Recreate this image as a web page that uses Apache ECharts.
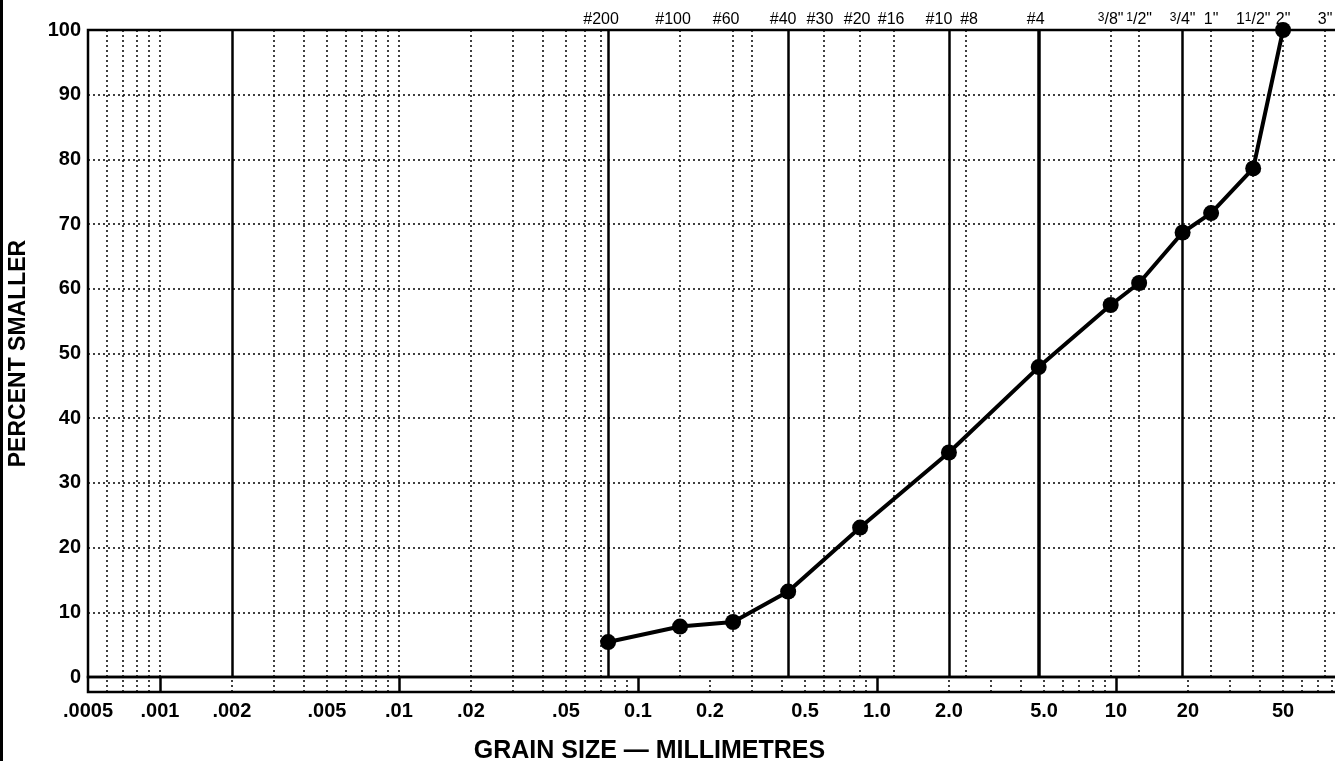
<!DOCTYPE html>
<html><head><meta charset="utf-8">
<script src="https://cdn.jsdelivr.net/npm/echarts@6/dist/echarts.min.js"></script>
<style>html,body{margin:0;padding:0;background:#fff}#c{width:1335px;height:761px}</style>
</head><body><div id="c"></div>
<script>
// Measured gradation curve
const grainSize = [0.075, 0.15, 0.25, 0.425, 0.85, 2.0, 4.75, 9.5, 12.5, 19, 25, 37.5, 50];
const percentSmaller = [5.4, 7.8, 8.5, 13.2, 23.1, 34.7, 47.9, 57.5, 60.9, 68.7, 71.7, 78.6, 100];

// Sieve lines and their top labels
const sieveSizes  = [0.075, 0.15, 0.25, 0.3, 0.425, 0.6, 0.85, 1.18, 2.0, 2.36, 4.75, 9.5, 12.5, 19, 25, 37.5, 50, 75];
const sieveLabels = ['#200', '#100', '#60', '', '#40', '#30', '#20', '#16', '#10', '#8', '#4',
  '{sup|3}/8"', '{sup|1}/2"', '{sup|3}/4"', '1"', '1{sup|1}/2"', '2"', '3"'];
const heavySieves = [0.075, 0.425, 2.0, 19];
const extraHeavySieves = [4.75];

// Fine-range log grid in the plot
const fineGrid = [0.0006, 0.0007, 0.0008, 0.0009, 0.001, 0.002, 0.003, 0.004, 0.005, 0.006, 0.007, 0.008, 0.009,
  0.01, 0.02, 0.03, 0.04, 0.05, 0.06, 0.07];
const heavyFine = [0.002];

// Scale strip ticks under the plot
const bandTicks = [0.0006, 0.0007, 0.0008, 0.0009, 0.001, 0.002, 0.003, 0.004, 0.005, 0.006, 0.007, 0.008, 0.009,
  0.01, 0.02, 0.03, 0.04, 0.05, 0.06, 0.07, 0.08, 0.09,
  0.1, 0.2, 0.3, 0.4, 0.5, 0.6, 0.7, 0.8, 0.9,
  1, 2, 3, 4, 5, 6, 7, 8, 9,
  10, 20, 30, 40, 50, 60, 70, 80, 90];
const bandMajor = [0.001, 0.01, 0.1, 1, 10];

// Bottom axis labels
const xLabelValues = [0.0005, 0.001, 0.002, 0.005, 0.01, 0.02, 0.05, 0.1, 0.2, 0.5, 1, 2, 5, 10, 20, 50];
const xLabelTexts  = ['.0005', '.001', '.002', '.005', '.01', '.02', '.05', '0.1', '0.2', '0.5', '1.0', '2.0', '5.0', '10', '20', '50'];

const yTicks = [0, 10, 20, 30, 40, 50, 60, 70, 80, 90, 100];

// Styling: horizontal nudge of the sieve captions (px, negative = left)
const LABEL_SHIFT = {'#200': -7, '#100': -7, '#60': -7, '#40': -5, '#30': -4, '#20': -3, '#16': -3, '#10': -10, '#8': 3, '#4': -3};

const FONT = "'Liberation Sans', Arial, Helvetica, sans-serif";
const DOT = [2, 3];

const chart = echarts.init(document.getElementById('c'), null, {renderer: 'canvas'});

const fineLines = fineGrid.map(v => ({
  xAxis: v,
  lineStyle: heavyFine.includes(v)
    ? {type: 'solid', width: 2.5, color: '#000'}
    : {type: DOT, width: 1.5, color: '#000'}
}));

const sieveLines = sieveSizes.map((v, i) => {
  const lbl = sieveLabels[i];
  let ls;
  if (extraHeavySieves.includes(v)) ls = {type: 'solid', width: 3.5, color: '#000'};
  else if (heavySieves.includes(v)) ls = {type: 'solid', width: 2.5, color: '#000'};
  else ls = {type: DOT, width: 1.5, color: '#000'};
  const s = LABEL_SHIFT[lbl] || 0;
  const pad = s < 0 ? [0, -2 * s, 0, 0] : [0, 0, 0, 2 * s];
  return {
    xAxis: v,
    name: lbl,
    lineStyle: ls,
    label: {
      show: lbl !== '',
      position: 'end',
      distance: 2,
      padding: pad
    }
  };
});

const bandLines = bandTicks.map(v => ({
  xAxis: v,
  lineStyle: bandMajor.includes(v)
    ? {type: 'solid', width: 2.5, color: '#000'}
    : {type: DOT, width: 1.5, color: '#000'}
}));

const labelLines = xLabelValues.map((v, i) => ({
  xAxis: v,
  name: xLabelTexts[i]
}));

const mlBase = {silent: true, symbol: ['none', 'none'], animation: false, precision: 10};

const option = {
  backgroundColor: '#fff',
  animation: false,
  graphic: [{
    type: 'rect', left: 0, top: 0,
    shape: {x: 0, y: 0, width: 3, height: 761},
    style: {fill: '#000'}
  }],
  grid: [
    {left: 88, top: 30, width: 1267, height: 647, outerBoundsMode: 'none', containLabel: false,
      show: true, borderColor: '#000', borderWidth: 2.5, backgroundColor: 'transparent'},
    {left: 88, top: 677, width: 1267, height: 15, outerBoundsMode: 'none', containLabel: false,
      show: true, borderColor: '#000', borderWidth: 2.5, backgroundColor: 'transparent'}
  ],
  xAxis: [
    {type: 'log', logBase: 10, gridIndex: 0, min: 0.0005, max: 100,
      axisLine: {show: false}, axisTick: {show: false}, axisLabel: {show: false}, splitLine: {show: false}},
    {type: 'log', logBase: 10, gridIndex: 1, min: 0.0005, max: 100,
      axisLine: {show: false}, axisTick: {show: false}, axisLabel: {show: false}, splitLine: {show: false},
      name: 'GRAIN SIZE — MILLIMETRES', nameLocation: 'middle', nameGap: 47,
      nameTextStyle: {fontFamily: FONT, fontWeight: 'bold', fontSize: 25, color: '#000', padding: [0, 144, 0, 0]}}
  ],
  yAxis: [
    {type: 'value', gridIndex: 0, min: 0, max: 100, interval: 10,
      axisLine: {show: false}, axisTick: {show: false},
      axisLabel: {fontFamily: FONT, fontWeight: 'bold', fontSize: 20, color: '#000', margin: 7,
        formatter: v => yTicks.includes(v) ? String(v) : ''},
      splitLine: {show: true, lineStyle: {type: DOT, width: 1.5, color: '#000'}},
      name: 'PERCENT SMALLER', nameLocation: 'middle', nameGap: 58,
      nameTextStyle: {fontFamily: FONT, fontWeight: 'bold', fontSize: 23, color: '#000'}},
    {type: 'value', gridIndex: 1, min: 0, max: 1, show: false}
  ],
  series: [
    {
      type: 'line', xAxisIndex: 0, yAxisIndex: 0, data: [], silent: true,
      markLine: Object.assign({}, mlBase, {label: {show: false}, data: fineLines})
    },
    {
      type: 'line', xAxisIndex: 0, yAxisIndex: 0, data: [], silent: true,
      markLine: Object.assign({}, mlBase, {
        label: {
          show: true, position: 'end', color: '#000', fontFamily: FONT, fontSize: 16,
          formatter: p => p.name,
          rich: {
            sup: {fontFamily: FONT, fontSize: 12, color: '#000', verticalAlign: 'top', lineHeight: 12}
          }
        },
        data: sieveLines
      })
    },
    {
      type: 'line', xAxisIndex: 1, yAxisIndex: 1, data: [], silent: true,
      markLine: Object.assign({}, mlBase, {label: {show: false}, data: bandLines})
    },
    {
      type: 'line', xAxisIndex: 1, yAxisIndex: 1, data: [], silent: true,
      markLine: Object.assign({}, mlBase, {
        lineStyle: {color: 'rgba(0,0,0,0)', width: 0},
        label: {
          show: true, position: 'start', distance: 9, color: '#000',
          fontFamily: FONT, fontWeight: 'bold', fontSize: 20,
          formatter: p => p.name
        },
        data: labelLines
      })
    },
    {
      type: 'line', xAxisIndex: 0, yAxisIndex: 0, clip: false, z: 10,
      data: grainSize.map((g, i) => [g, percentSmaller[i]]),
      symbol: 'circle', symbolSize: 16,
      lineStyle: {color: '#000', width: 4},
      itemStyle: {color: '#000'}
    }
  ]
};
chart.setOption(option);
</script></body></html>
